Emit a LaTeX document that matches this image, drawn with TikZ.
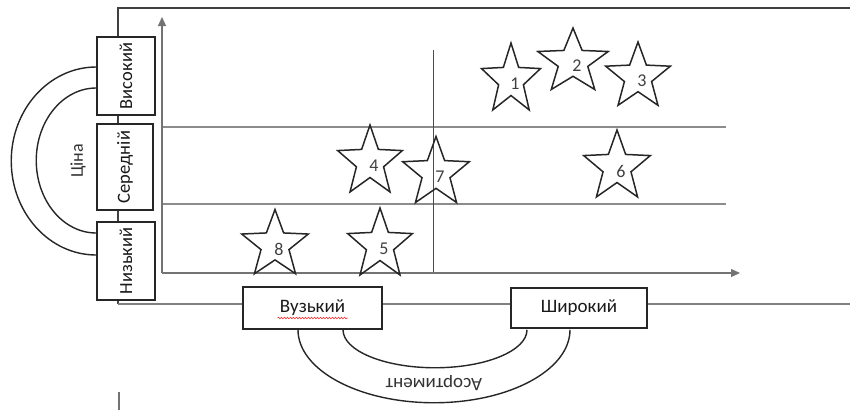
\documentclass[tikz,border=0pt]{standalone}
\usepackage{fontspec}
\usepackage{graphicx}
\setmainfont{Carlito}
\usetikzlibrary{arrows.meta,decorations.pathmorphing}
\tikzset{
  frameline/.style={draw=black!75, line width=1.8pt},
  gridline/.style={draw=black!45, line width=1.3pt},
  axisline/.style={draw=black!55, line width=1.2pt, -{Triangle[length=9pt,width=8pt]}},
  starline/.style={draw=black!85, line width=1.5pt, line join=miter},
  starlabel/.style={font=\fontsize{18}{20}\selectfont, text=black!75, inner sep=0pt},
  boxh/.style={draw=black!85, line width=1.5pt, fill=white, font=\fontsize{19}{21}\selectfont, text=black!90, inner sep=0pt},
  boxv/.style={draw=black!85, line width=1.5pt, fill=white, font=\fontsize{18.5}{20}\selectfont, text=black!90, inner sep=0pt},
  arcline/.style={draw=black!85, line width=1.4pt},
  lbl/.style={text=black!80, inner sep=0pt}
}
\newcommand\mystar[6]{%
  \draw[starline,shift={(#2,#3)},xscale=#4,yscale=-#5]
    (90:1) -- (126:0.42) -- (162:1) -- (198:0.42) -- (234:1) -- (270:0.42)
    -- (306:1) -- (342:0.42) -- (18:1) -- (54:0.42) -- cycle;
  \node[starlabel] (#1) at (#2+4,#3+4) {#6};
}
\begin{document}
\begin{tikzpicture}[x=1pt,y=-1pt]
\useasboundingbox (0,0) rectangle (850,410);
% frame
\coordinate (ftl) at (118,8);
\coordinate (ftr) at (850,8);
\coordinate (fbl) at (118,304);
\coordinate (fbr) at (850,304);
\draw[frameline] (ftr) -- (ftl) -- (fbl);
\draw[frameline, draw=black!50] (fbl) -- (fbr);
\coordinate (tickA) at (119,392);
\coordinate (tickB) at (119,410);
\draw[draw=black!55, line width=1.5pt] (tickA) -- (tickB);
% grid
\coordinate (O) at (162,273);
\coordinate (ytip) at (162,17);
\coordinate (xtip) at (740,273);
\coordinate (g1a) at (162,127); \coordinate (g1b) at (726,127);
\coordinate (g2a) at (162,204); \coordinate (g2b) at (726,204);
\coordinate (va) at (433,50); \coordinate (vb) at (433,273);
\draw[gridline] (g1a) -- (g1b);
\draw[gridline] (g2a) -- (g2b);
\draw[draw=black!70, line width=1pt] (va) -- (vb);
\draw[axisline] (O) -- (ytip);
\draw[axisline] (O) -- (xtip);
% left boxes
\node[boxv, minimum width=58pt, minimum height=78pt] (vys) at (126,76) {\rotatebox{90}{Високий}};
\node[boxv, minimum width=56pt, minimum height=86pt] (ser) at (125,167) {\rotatebox{90}{Середній}};
\node[boxv, minimum width=58pt, minimum height=78pt] (niz) at (126,261) {\rotatebox{90}{Низький}};
% bottom boxes
\node[boxh, minimum width=139pt, minimum height=42pt] (vuz) at (312.5,308) {Вузький};
\node[boxh, minimum width=136pt, minimum height=40pt] (shyr) at (579,308) {Широкий};
\draw[red!80, line width=0.6pt, decorate, decoration={snake, amplitude=0.8pt, segment length=3pt}]
  ([xshift=-35pt,yshift=-10pt]vuz.center) -- ([xshift=35pt,yshift=-10pt]vuz.center);
% arcs
\draw[arcline] ([yshift=9pt]vys.west) arc[start angle=270, end angle=90, x radius=85, y radius=94];
\draw[arcline] ([yshift=-12pt]vys.west) arc[start angle=270, end angle=90, x radius=60, y radius=72.5];
\draw[arcline] ([xshift=-14.5pt]vuz.south) arc[start angle=180, end angle=0, x radius=136, y radius=73];
\draw[arcline] ([xshift=30.5pt]vuz.south) arc[start angle=180, end angle=0, x radius=92, y radius=38];
\node[lbl, rotate=90, font=\fontsize{18}{20}\selectfont] (cina) at (78,161) {Ціна};
\node[lbl, rotate=180, font=\fontsize{19}{21}\selectfont] (asort) at (434,383) {Асортимент};
% stars
\mystar{s1}{511}{80}{31}{37}{1}
\mystar{s2}{573}{62}{37}{34}{2}
\mystar{s3}{638}{77}{34}{35}{3}
\mystar{s4}{370}{162}{34}{37}{4}
\mystar{s7}{436}{173}{35}{36.5}{7}
\mystar{s6}{617}{167}{35}{37}{6}
\mystar{s8}{275}{245}{35}{35.5}{8}
\mystar{s5}{380}{245}{34}{37}{5}
\end{tikzpicture}
\end{document}
